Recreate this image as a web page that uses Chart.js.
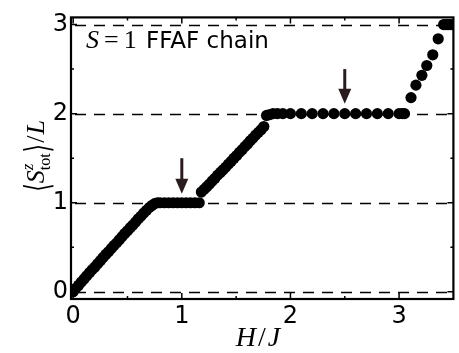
<!DOCTYPE html>
<html lang="en">
<head>
<meta charset="UTF-8">
<title>S=1 FFAF chain magnetization</title>
<script src="https://cdn.jsdelivr.net/npm/chart.js@4.4.0/dist/chart.umd.min.js"></script>
<style>
  html, body { margin: 0; padding: 0; background: #fff; }
  #wrap { width: 459px; height: 353px; }
</style>
</head>
<body>
<div id="wrap"><canvas id="magChart" width="459" height="353"></canvas></div>
<script>
// magnetization curve <S^z_tot>/L versus H/J
const hField = [
    0.00, 0.025, 0.05, 0.075, 0.10, 0.125, 0.15, 0.175, 0.20, 0.225, 0.25, 0.275, 0.30, 0.325, 0.35, 0.375,
    0.40, 0.425, 0.45, 0.475, 0.50, 0.525, 0.55, 0.575, 0.60, 0.625, 0.65, 0.675, 0.70, 0.725, 0.75, 0.775,
    0.80, 0.84, 0.88, 0.92, 0.96, 1.00, 1.04, 1.08, 1.12, 1.16,
    1.18, 1.205, 1.23, 1.255, 1.28, 1.305, 1.33, 1.355, 1.38, 1.405, 1.43, 1.455,
    1.48, 1.505, 1.53, 1.555, 1.58, 1.605, 1.63, 1.655, 1.68, 1.705, 1.73, 1.755,
    1.78, 1.81, 1.84, 1.88, 1.93, 2.00, 2.10, 2.20, 2.30, 2.40, 2.50, 2.60, 2.70, 2.80, 2.90, 3.00, 3.03, 3.05,
    3.11, 3.155, 3.21, 3.255, 3.31, 3.36,
    3.41, 3.43, 3.45, 3.47, 3.49
];
const magnet = [
    0.00, 0.04, 0.075, 0.11, 0.145, 0.18, 0.215, 0.25, 0.28, 0.315, 0.35, 0.385, 0.42, 0.45, 0.485, 0.52,
    0.55, 0.585, 0.62, 0.655, 0.685, 0.72, 0.75, 0.785, 0.82, 0.85, 0.885, 0.915, 0.945, 0.97, 0.99, 1.00,
    1.00, 1.00, 1.00, 1.00, 1.00, 1.00, 1.00, 1.00, 1.00, 1.00,
    1.12, 1.15, 1.18, 1.21, 1.245, 1.275, 1.31, 1.34, 1.37, 1.40, 1.435, 1.465,
    1.50, 1.53, 1.565, 1.595, 1.63, 1.66, 1.695, 1.725, 1.76, 1.79, 1.82, 1.855,
    1.98, 1.99, 2.00, 2.00, 2.00, 2.00, 2.00, 2.00, 2.00, 2.00, 2.00, 2.00, 2.00, 2.00, 2.00, 2.00, 2.00, 2.00,
    2.18, 2.32, 2.43, 2.54, 2.66, 2.84,
    3.00, 3.00, 3.00, 3.00, 3.00
];
const xTickVals = [0, 0.5, 1, 1.5, 2, 2.5, 3];
const yTickVals = [0, 0.5, 1, 1.5, 2, 2.5, 3];
const plateauLines = [0, 1, 2, 3];
// arrows marking the plateaus
const arrowH = [1.0, 2.5];
const arrowTop = [1.5, 2.5];
const arrowTip = [1.1, 2.11];

const points = hField.map((h, i) => ({ x: h, y: magnet[i] }));

// draws a row of text pieces; each piece {t, f, dy, stack, gap, sy}
function drawPieces(ctx, pieces, x, y) {
    let cx = x;
    let lastStart = x;
    let lastW = 0;
    pieces.forEach(p => {
        ctx.font = p.f;
        const w = ctx.measureText(p.t).width;
        const px = p.stack ? lastStart : cx;
        const py = y + (p.dy || 0);
        if (p.sy) {
            // stretched glyph (tall angle brackets)
            ctx.save();
            ctx.translate(px, py);
            ctx.scale(1, p.sy);
            ctx.fillText(p.t, 0, 0);
            ctx.restore();
        } else {
            ctx.fillText(p.t, px, py);
        }
        if (p.stack) {
            cx = lastStart + Math.max(w, lastW) + (p.gap || 0);
        } else {
            lastStart = cx;
            lastW = w;
            cx += w + (p.gap || 0);
        }
    });
    return cx - x;
}
function piecesWidth(ctx, pieces) {
    let total = 0, lastW = 0;
    pieces.forEach(p => {
        ctx.font = p.f;
        const w = ctx.measureText(p.t).width;
        if (p.stack) { total += Math.max(0, w - lastW) + (p.gap || 0); }
        else { total += w + (p.gap || 0); lastW = w; }
    });
    return total;
}

const yTitle = [
    { t: '\u27E8', f: '22px "DejaVu Serif"', dy: 5, sy: 1.55 },
    { t: 'S', f: 'italic 26px "Liberation Serif"' },
    { t: 'z', f: 'italic 17px "Liberation Serif"', dy: -11 },
    { t: 'tot', f: '16px "Liberation Serif"', dy: 6, stack: true, gap: 1 },
    { t: '\u27E9', f: '22px "DejaVu Serif"', dy: 5, sy: 1.55, gap: 1 },
    { t: '/', f: '26px "Liberation Serif"', gap: 1 },
    { t: 'L', f: 'italic 26px "Liberation Serif"' }
];
const xTitle = [
    { t: 'H', f: 'italic 28px "Liberation Serif"', gap: 2 },
    { t: '/', f: '28px "Liberation Serif"', gap: 2 },
    { t: 'J', f: 'italic 28px "Liberation Serif"' }
];
const label = [
    { t: 'S', f: 'italic 26px "Liberation Serif"', gap: 5 },
    { t: '=', f: '26px "Liberation Serif"', gap: 5 },
    { t: '1', f: '26px "Liberation Serif"' }
];

const backLines = {
    id: 'backLines',
    beforeDatasetsDraw(chart) {
        const { ctx, chartArea: a, scales: { y } } = chart;
        ctx.save();
        ctx.strokeStyle = '#000';
        ctx.lineWidth = 1.6;
        ctx.setLineDash([11, 8]);
        plateauLines.forEach(v => {
            const py = Math.round(y.getPixelForValue(v)) + 0.5;
            ctx.beginPath();
            ctx.moveTo(a.left + 4, py);
            ctx.lineTo(a.right, py);
            ctx.stroke();
        });
        ctx.restore();
    }
};

const frontDecor = {
    id: 'frontDecor',
    afterDatasetsDraw(chart) {
        const { ctx, chartArea: a, scales: { x, y } } = chart;
        ctx.save();
        ctx.strokeStyle = '#000';
        // inward ticks on all four sides
        ctx.lineWidth = 1.5;
        xTickVals.forEach(v => {
            const px = x.getPixelForValue(v);
            const len = Number.isInteger(v) ? 6 : 3;
            ctx.beginPath();
            ctx.moveTo(px, a.bottom); ctx.lineTo(px, a.bottom - len);
            ctx.moveTo(px, a.top); ctx.lineTo(px, a.top + len);
            ctx.stroke();
        });
        yTickVals.forEach(v => {
            const py = y.getPixelForValue(v);
            const len = Number.isInteger(v) ? 6 : 3;
            ctx.beginPath();
            ctx.moveTo(a.left, py); ctx.lineTo(a.left + len, py);
            ctx.moveTo(a.right, py); ctx.lineTo(a.right - len, py);
            ctx.stroke();
        });
        // frame
        ctx.lineWidth = 2.2;
        ctx.strokeRect(a.left, a.top, a.right - a.left, a.bottom - a.top);

        // arrows
        ctx.strokeStyle = '#2a1c1c';
        ctx.fillStyle = '#2a1c1c';
        arrowH.forEach((h, i) => {
            const px = x.getPixelForValue(h);
            const y0 = y.getPixelForValue(arrowTop[i]);
            const y1 = y.getPixelForValue(arrowTip[i]);
            const head = 15;
            ctx.lineWidth = 3;
            ctx.beginPath();
            ctx.moveTo(px, y0);
            ctx.lineTo(px, y1 - head + 2);
            ctx.stroke();
            ctx.beginPath();
            ctx.moveTo(px - 6.5, y1 - head);
            ctx.lineTo(px + 6.5, y1 - head);
            ctx.lineTo(px, y1);
            ctx.closePath();
            ctx.fill();
        });

        // texts
        ctx.fillStyle = '#000';
        ctx.textBaseline = 'alphabetic';
        ctx.textAlign = 'left';
        drawPieces(ctx, label, 86, 48);
        ctx.font = '23px "DejaVu Sans"';
        ctx.fillText('FFAF chain', 146, 48);

        const xw = piecesWidth(ctx, xTitle);
        drawPieces(ctx, xTitle, 258 - xw / 2, 346);

        ctx.translate(44, 156);
        ctx.rotate(-Math.PI / 2);
        const yw = piecesWidth(ctx, yTitle);
        drawPieces(ctx, yTitle, -yw / 2, 0);
        ctx.restore();
    }
};

const tickFont = { family: 'DejaVu Sans', size: 24 };

new Chart(document.getElementById('magChart'), {
    type: 'scatter',
    data: {
        datasets: [{
            data: points,
            pointRadius: 5.6,
            pointBackgroundColor: '#000',
            pointBorderWidth: 0,
            showLine: false
        }]
    },
    options: {
        responsive: false,
        animation: false,
        devicePixelRatio: 1,
        layout: { padding: { top: 12, right: 1, left: 0, bottom: 0 } },
        plugins: { legend: { display: false }, tooltip: { enabled: false } },
        scales: {
            x: {
                type: 'linear', min: -0.02, max: 3.5,
                afterBuildTicks: s => { s.ticks = xTickVals.map(v => ({ value: v })); },
                afterFit: s => { s.height = 54; },
                grid: { display: false, drawTicks: false },
                border: { display: false },
                ticks: {
                    autoSkip: false, maxRotation: 0, padding: 3, color: '#000', font: tickFont,
                    callback: v => Number.isInteger(v) ? String(v) : ''
                }
            },
            y: {
                type: 'linear', min: -0.08, max: 3.08,
                afterBuildTicks: s => { s.ticks = yTickVals.map(v => ({ value: v })); },
                afterFit: s => { s.width = 71; },
                grid: { display: false, drawTicks: false },
                border: { display: false },
                ticks: {
                    autoSkip: false, padding: 3, color: '#000', font: tickFont,
                    callback: v => Number.isInteger(v) ? String(v) : ''
                }
            }
        }
    },
    plugins: [backLines, frontDecor]
});
</script>
</body>
</html>
